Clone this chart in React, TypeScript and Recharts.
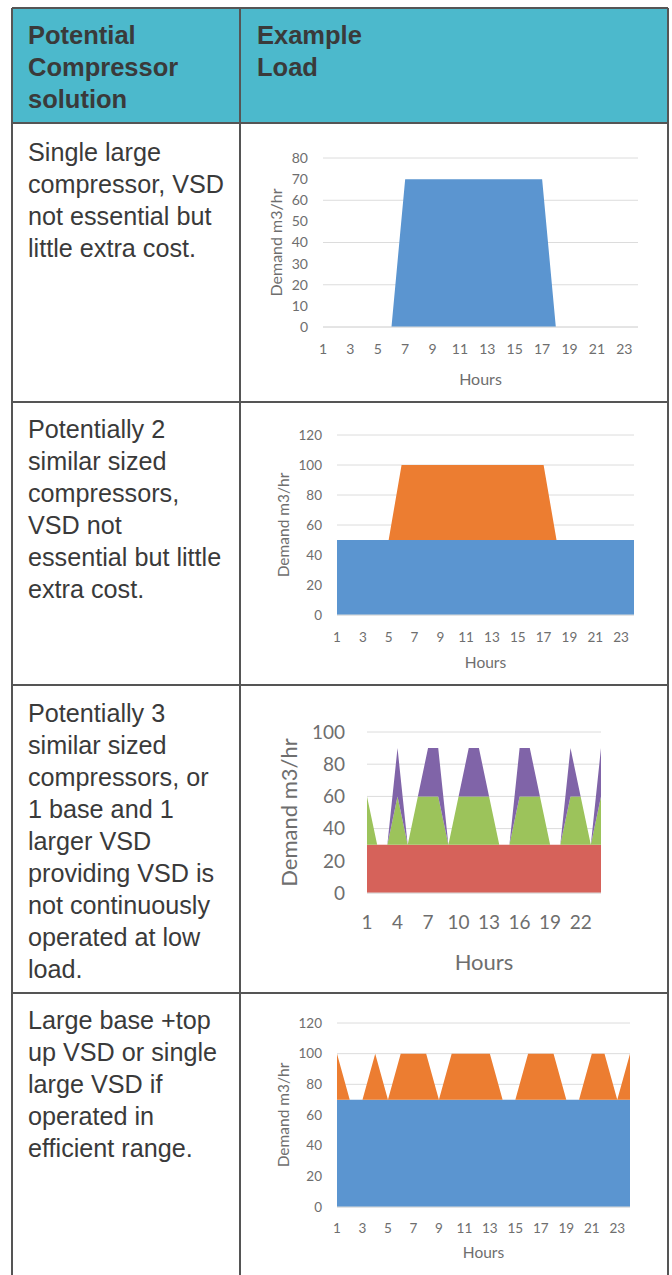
import React from 'react';
import { AreaChart, Area, XAxis, YAxis, CartesianGrid, Label } from 'recharts';

// ---------- data ----------
const hours = [1, 2, 3, 4, 5, 6, 7, 8, 9, 10, 11, 12, 13, 14, 15, 16, 17, 18, 19, 20, 21, 22, 23, 24];

const load1Main = [0, 0, 0, 0, 0, 0, 70, 70, 70, 70, 70, 70, 70, 70, 70, 70, 70, 0, 0, 0, 0, 0, 0, 0];

const load2Base = [50, 50, 50, 50, 50, 50, 50, 50, 50, 50, 50, 50, 50, 50, 50, 50, 50, 50, 50, 50, 50, 50, 50, 50];
const load2Peak = [0, 0, 0, 0, 0, 50, 50, 50, 50, 50, 50, 50, 50, 50, 50, 50, 50, 0, 0, 0, 0, 0, 0, 0];

const load3Base = [30, 30, 30, 30, 30, 30, 30, 30, 30, 30, 30, 30, 30, 30, 30, 30, 30, 30, 30, 30, 30, 30, 30, 30];
const load3Mid = [30, 0, 0, 30, 0, 30, 30, 30, 0, 30, 30, 30, 30, 0, 0, 30, 30, 30, 0, 0, 30, 30, 0, 30];
const load3Top = [0, 0, 0, 30, 0, 0, 30, 30, 0, 0, 30, 30, 0, 0, 0, 30, 30, 0, 0, 0, 30, 0, 0, 30];

const load4Base = [70, 70, 70, 70, 70, 70, 70, 70, 70, 70, 70, 70, 70, 70, 70, 70, 70, 70, 70, 70, 70, 70, 70, 70];
const load4Top = [30, 0, 0, 30, 0, 30, 30, 30, 0, 30, 30, 30, 30, 0, 0, 30, 30, 30, 0, 0, 30, 30, 0, 30];

const yTicks1 = [0, 10, 20, 30, 40, 50, 60, 70, 80];
const yTicks2 = [0, 20, 40, 60, 80, 100, 120];
const yTicks3 = [0, 20, 40, 60, 80, 100];
const yTicks4 = [0, 20, 40, 60, 80, 100, 120];

const yTitle = 'Demand m3/hr';
const xTitle = 'Hours';

const headerCol1 = ['Potential', 'Compressor', 'solution'];
const headerCol2 = ['Example', 'Load'];

const row1Text = ['Single large', 'compressor, VSD', 'not essential but', 'little extra cost.'];
const row2Text = ['Potentially 2', 'similar sized', 'compressors,', 'VSD not', 'essential but little', 'extra cost.'];
const row3Text = ['Potentially 3', 'similar sized', 'compressors, or', '1 base and 1', 'larger VSD', 'providing VSD is', 'not continuously', 'operated at low', 'load.'];
const row4Text = ['Large base +top', 'up VSD or single', 'large VSD if', 'operated in', 'efficient range.'];

// ---------- styles ----------
const COLORS = {
  blue: '#5b95d0',
  orange: '#ec7d31',
  red: '#d6625a',
  green: '#9cc35b',
  purple: '#8064a8',
  teal: '#4cb9cc',
  line: '#555555',
  text: '#3a3a3a',
  axis: '#6e6e6e',
  grid: '#dcdcdc',
};

const build = (cols: Record<string, number[]>) =>
  hours.map((h, i) => {
    const row: Record<string, number> = { hour: h };
    Object.keys(cols).forEach((k) => {
      row[k] = cols[k][i];
    });
    return row;
  });

const data1 = build({ a: load1Main });
const data2 = build({ a: load2Base, b: load2Peak });
const data3 = build({ a: load3Base, b: load3Mid, c: load3Top });
const data4 = build({ a: load4Base, b: load4Top });

type Spec = {
  top: number;
  height: number;
  marginTop: number;
  marginRight: number;
  yWidth: number;
  xHeight: number;
  tickFont: number;
  labelFont: number;
  yTickGap: number;
  xTickGap: number;
  yLabelX: number;
  xLabelDy: number;
  yMax: number;
  yTicks: number[];
  interval: number;
  series: { key: string; color: string }[];
  data: Record<string, number>[];
};

const FONT = 'Lato, "Open Sans", sans-serif';

const LoadChart = ({ s }: { s: Spec }) => {
  const yLab = (p: any) => {
    const vb = p.viewBox || {};
    const cx = (vb.x ?? 0) + s.yLabelX;
    const cy = (vb.y ?? 0) + (vb.height ?? 0) / 2;
    return (
      <text
        x={cx}
        y={cy}
        transform={`rotate(-90 ${cx} ${cy})`}
        textAnchor="middle"
        dominantBaseline="central"
        fill={COLORS.axis}
        fontSize={s.labelFont}
        fontFamily={FONT}
      >
        {yTitle}
      </text>
    );
  };
  const xLab = (p: any) => {
    const vb = p.viewBox || {};
    const cx = (vb.x ?? 0) + (vb.width ?? 0) / 2;
    const cy = (vb.y ?? 0) + s.xLabelDy;
    return (
      <text
        x={cx}
        y={cy}
        textAnchor="middle"
        dominantBaseline="central"
        fill={COLORS.axis}
        fontSize={s.labelFont}
        fontFamily={FONT}
      >
        {xTitle}
      </text>
    );
  };
  return (
    <div style={{ position: 'absolute', left: 240, top: s.top, width: 428, height: s.height }}>
      <AreaChart
        width={428}
        height={s.height}
        data={s.data}
        margin={{ top: s.marginTop, right: s.marginRight, left: 0, bottom: 0 }}
      >
        <CartesianGrid vertical={false} stroke={COLORS.grid} />
        <XAxis
          dataKey="hour"
          type="category"
          interval={s.interval}
          height={s.xHeight}
          tickLine={false}
          tickSize={0}
          tickMargin={s.xTickGap}
          axisLine={{ stroke: COLORS.grid }}
          tick={{ fill: COLORS.axis, fontSize: s.tickFont, fontFamily: FONT }}
        >
          <Label content={xLab} />
        </XAxis>
        <YAxis
          type="number"
          domain={[0, s.yMax]}
          ticks={s.yTicks}
          width={s.yWidth}
          tickLine={false}
          tickSize={0}
          tickMargin={s.yTickGap}
          axisLine={false}
          tick={{ fill: COLORS.axis, fontSize: s.tickFont, fontFamily: FONT }}
        >
          <Label content={yLab} />
        </YAxis>
        {s.series.map((se) => (
          <Area
            key={se.key}
            type="linear"
            dataKey={se.key}
            stackId="1"
            stroke="none"
            fill={se.color}
            fillOpacity={1}
            dot={false}
            activeDot={false}
            isAnimationActive={false}
          />
        ))}
      </AreaChart>
    </div>
  );
};

const specs: Spec[] = [
  {
    top: 130, height: 265, marginTop: 28, marginRight: 30, yWidth: 83, xHeight: 68,
    tickFont: 14, labelFont: 16, yTickGap: 15, xTickGap: 17, yLabelX: 35, xLabelDy: 51,
    yMax: 80, yTicks: yTicks1, interval: 1,
    series: [{ key: 'a', color: COLORS.blue }], data: data1,
  },
  {
    top: 405, height: 275, marginTop: 30, marginRight: 34, yWidth: 97, xHeight: 65,
    tickFont: 13.5, labelFont: 15.5, yTickGap: 15, xTickGap: 17, yLabelX: 43, xLabelDy: 47,
    yMax: 120, yTicks: yTicks2, interval: 1,
    series: [{ key: 'a', color: COLORS.blue }, { key: 'b', color: COLORS.orange }], data: data2,
  },
  {
    top: 690, height: 290, marginTop: 42, marginRight: 67, yWidth: 127, xHeight: 87,
    tickFont: 19, labelFont: 22, yTickGap: 22, xTickGap: 23, yLabelX: 48, xLabelDy: 68,
    yMax: 100, yTicks: yTicks3, interval: 2,
    series: [
      { key: 'a', color: COLORS.red },
      { key: 'b', color: COLORS.green },
      { key: 'c', color: COLORS.purple },
    ],
    data: data3,
  },
  {
    top: 995, height: 280, marginTop: 28, marginRight: 38, yWidth: 97, xHeight: 68,
    tickFont: 13.5, labelFont: 15.5, yTickGap: 15, xTickGap: 16, yLabelX: 43, xLabelDy: 45,
    yMax: 120, yTicks: yTicks4, interval: 1,
    series: [{ key: 'a', color: COLORS.blue }, { key: 'b', color: COLORS.orange }], data: data4,
  },
];

const HLine = ({ y }: { y: number }) => (
  <div style={{ position: 'absolute', left: 12, top: y - 0.75, width: 656, height: 1.5, background: COLORS.line }} />
);
const VLine = ({ x }: { x: number }) => (
  <div style={{ position: 'absolute', left: x - 0.75, top: 8, width: 1.5, height: 1300, background: COLORS.line }} />
);

const TextBlock = ({ lines, left, top, bold }: { lines: string[]; left: number; top: number; bold?: boolean }) => (
  <div
    style={{
      position: 'absolute',
      left,
      top,
      fontSize: bold ? 25.5 : 25.2,
      lineHeight: '32px',
      fontWeight: bold ? 700 : 400,
      whiteSpace: 'nowrap',
      color: COLORS.text,
    }}
  >
    {lines.map((l, i) => (
      <div key={i}>{l}</div>
    ))}
  </div>
);

export default function App() {
  return (
    <div
      style={{
        position: 'absolute',
        left: 0,
        top: 0,
        width: 672,
        height: 1275,
        overflow: 'hidden',
        background: '#ffffff',
        fontFamily: '"Liberation Sans", Arial, sans-serif',
      }}
    >
      <div style={{ position: 'absolute', left: 12, top: 8, width: 656, height: 115, background: COLORS.teal }} />
      <HLine y={8} />
      <HLine y={123} />
      <HLine y={402} />
      <HLine y={685} />
      <HLine y={993} />
      <VLine x={12} />
      <VLine x={240} />
      <VLine x={668} />

      <TextBlock lines={headerCol1} left={28} top={19} bold />
      <TextBlock lines={headerCol2} left={257} top={19} bold />
      <TextBlock lines={row1Text} left={28} top={136} />
      <TextBlock lines={row2Text} left={28} top={413} />
      <TextBlock lines={row3Text} left={28} top={697} />
      <TextBlock lines={row4Text} left={28} top={1004} />

      {specs.map((s, i) => (
        <LoadChart key={i} s={s} />
      ))}
    </div>
  );
}
